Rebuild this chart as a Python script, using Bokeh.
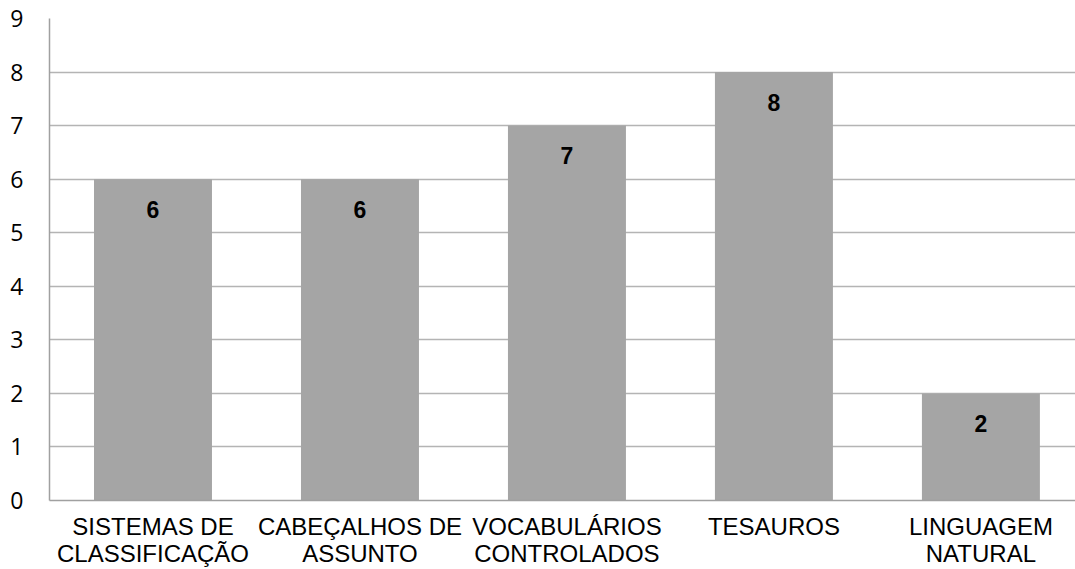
from bokeh.plotting import figure
from bokeh.models import Range1d, FixedTicker, ColumnDataSource
from bokeh.core.properties import value
from bokeh.embed import file_html
from bokeh.resources import INLINE

categories = ["SISTEMAS DE\nCLASSIFICAÇÃO", "CABEÇALHOS DE\nASSUNTO", "VOCABULÁRIOS\nCONTROLADOS",
              "TESAUROS", "LINGUAGEM\nNATURAL"]
values = [6, 6, 7, 8, 2]
y_ticks = list(range(0, 10))

xs = list(range(len(categories)))
src = ColumnDataSource(dict(x=xs, top=values, label=[str(v) for v in values]))

p = figure(width=1075, height=569, output_backend="svg", toolbar_location=None,
           x_range=Range1d(-0.5, 4.457), y_range=Range1d(0, 9),
           min_border_left=49, min_border_right=0, min_border_top=18, min_border_bottom=69)
p.outline_line_color = None
p.background_fill_color = "white"

p.vbar(x="x", top="top", width=0.57, source=src, fill_color="#A5A5A5", line_color=None)
p.text(x="x", y="top", text="label", source=src, text_align="center", text_baseline="middle",
       y_offset=30, text_font=value("Liberation Sans"), text_font_style="bold",
       text_font_size="23px", text_color="black")

p.xgrid.grid_line_color = None
p.ygrid.grid_line_color = "#B4B4B4"
p.ygrid.grid_line_width = 1.5
p.ygrid.ticker = FixedTicker(ticks=y_ticks)

p.yaxis.ticker = FixedTicker(ticks=y_ticks)
p.yaxis.major_tick_line_color = None
p.yaxis.minor_tick_line_color = None
p.yaxis.major_tick_out = 0
p.yaxis.major_tick_in = 0
p.yaxis.axis_line_color = "#A0A0A0"
p.yaxis.axis_line_width = 1.5
p.yaxis.major_label_text_font = "Open Sans"
p.yaxis.major_label_text_font_size = "23px"
p.yaxis.major_label_text_color = "black"
p.yaxis.major_label_standoff = 26

p.xaxis.ticker = FixedTicker(ticks=xs)
p.xaxis.major_label_overrides = {i: c for i, c in enumerate(categories)}
p.xaxis.major_tick_line_color = None
p.xaxis.minor_tick_line_color = None
p.xaxis.major_tick_out = 0
p.xaxis.major_tick_in = 0
p.xaxis.axis_line_color = "#A0A0A0"
p.xaxis.axis_line_width = 1.5
p.xaxis.major_label_text_font = "Liberation Sans"
p.xaxis.major_label_text_font_size = "24px"
p.xaxis.major_label_text_color = "black"
p.xaxis.major_label_text_line_height = 1.0
p.xaxis.major_label_standoff = 12

open("out.html", "w").write(file_html(p, INLINE))
